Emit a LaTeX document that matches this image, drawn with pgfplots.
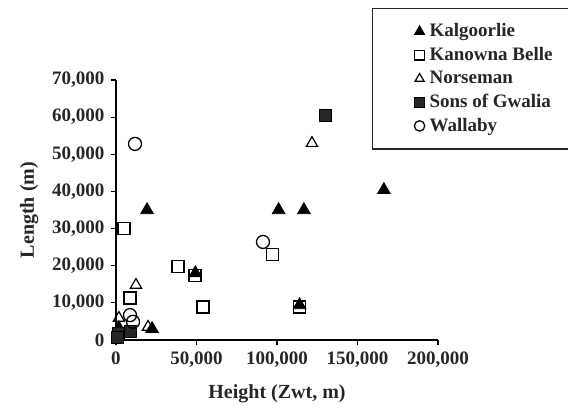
\documentclass[border=0pt]{standalone}
\usepackage{fontspec}
\setmainfont{Liberation Serif}
\usepackage{pgfplots}
\pgfplotsset{compat=1.18}
\begin{document}
\fontsize{19bp}{23bp}\selectfont\bfseries
\begin{tikzpicture}
\path[use as bounding box] (-116bp,-71bp) rectangle (452bp,340bp);
\begin{axis}[
  scale only axis,
  width=322bp, height=260bp,
  xmin=0, xmax=200000, ymin=0, ymax=70000,
  axis x line*=bottom, axis y line*=left,
  axis line style={line width=1.1pt, -},
  scaled ticks=false,
  xtick={0,50000,100000,150000,200000},
  xticklabels={0,{50,000},{100,000},{150,000},{200,000}},
  ytick={0,10000,20000,30000,40000,50000,60000,70000},
  yticklabels={0,{10,000},{20,000},{30,000},{40,000},{50,000},{60,000},{70,000}},
  tick align=outside,
  major tick length=5bp,
  tick style={line width=1.1pt, black},
  tick label style={font=\fontsize{19bp}{23bp}\selectfont\bfseries, text=black!85},
  xlabel={Height (Zwt, m)},
  ylabel={Length (m)},
  label style={font=\fontsize{20bp}{24bp}\selectfont\bfseries, text=black!85},
  xlabel style={at={(axis description cs:0.5,-0.208)}, anchor=center},
  ylabel style={at={(axis description cs:-0.27,0.5)}, anchor=center},
  clip=false,
  legend style={at={(axis description cs:0.795,1.277)}, anchor=north west,
    draw=black!85, line width=1.2pt, font=\fontsize{19bp}{23bp}\selectfont\bfseries,
    text=black!85, inner xsep=17bp, inner ysep=13bp, row sep=3.7bp},
  legend cell align=left,
  legend image code/.code={\path[draw=none,fill=none] (0bp,-5bp) rectangle (38bp,5bp);
    \draw[#1] plot[only marks] coordinates {(30bp,0bp)};},
  legend image post style={mark options={scale=0.8}},
]
\addplot[only marks, mark=triangle*, mark size=7.3bp, black, fill=black, line width=0.8pt] coordinates {
(19300,35000) (101000,35000) (116700,35000) (166400,40400) (49300,18000) (114000,9400) (22400,3000) (1800,3200)
};
\addlegendentry{\makebox[133bp][l]{Kalgoorlie}}
\addplot[only marks, mark=square, mark size=6bp, black, line width=1.3pt] coordinates {
(5000,30000) (38500,19700) (49000,17300) (54000,8900) (97000,23000) (114000,8900) (8700,11300)
};
\addlegendentry{Kanowna Belle}
\addplot[only marks, mark=triangle, mark size=6.5bp, black, line width=1.2pt] coordinates {
(121700,53000) (12400,14800) (1800,5900) (19900,3500)
};
\addlegendentry{Norseman}
\addplot[only marks, mark=square*, mark size=6bp, black, fill=black!85, line width=0.8pt] coordinates {
(129800,60600) (1200,1900) (8700,2200) (800,800)
};
\addlegendentry{Sons of Gwalia}
\addplot[only marks, mark=o, mark size=6.5bp, black, line width=1.3pt] coordinates {
(11800,52800) (91300,26400) (8700,6700) (10600,4900)
};
\addlegendentry{Wallaby}
\end{axis}
\end{tikzpicture}
\end{document}
